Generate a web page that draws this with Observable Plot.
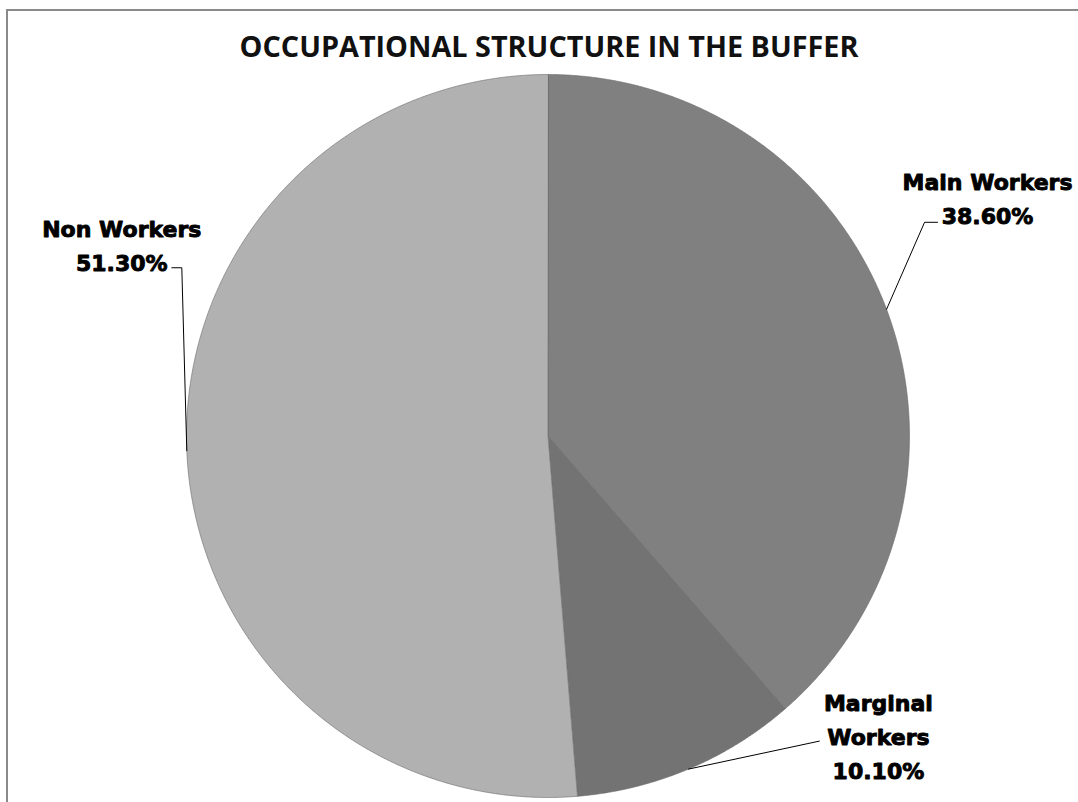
<!DOCTYPE html>
<html>
<head>
<meta charset="utf-8">
<script src="https://cdn.jsdelivr.net/npm/d3@7"></script>
<script src="https://cdn.jsdelivr.net/npm/@observablehq/plot@0.6"></script>
<style>
  html, body { margin: 0; padding: 0; background: #fff; }
  #wrap { position: relative; width: 1078px; height: 802px; overflow: hidden; }
  #frame { position: absolute; left: 6px; top: 9px; right: -10px; bottom: -10px;
           border-left: 2px solid #8a8a8a; border-top: 2px solid #8a8a8a; }
  #title { position: absolute; left: 0; width: 1098px; top: 28px; text-align: center;
           font-family: "Open Sans", sans-serif; font-weight: 700; font-size: 28.8px;
           color: #111; line-height: 36px; }
  #chart { position: absolute; left: 0; top: 0; }
</style>
</head>
<body>
<div id="wrap">
  <div id="frame"></div>
  <div id="chart"></div>
  <div id="title">OCCUPATIONAL STRUCTURE IN THE BUFFER</div>
</div>
<script>
// ---- data ----
const categories = ["Main Workers", "Marginal Workers", "Non Workers"];
const values = [38.6, 10.1, 51.3];
const valueLabels = ["38.60%", "10.10%", "51.30%"];
const labelNames = ["Main Workers", "Marginal\nWorkers", "Non Workers"];
const colors = ["#808080", "#737373", "#b1b1b1"];

// ---- layout (pixels) ----
const W = 1078, H = 802;
const margin = {left: 186, right: 169, top: 74, bottom: 5};
const R = (W - margin.left - margin.right) / 2; // pixels per data unit
// leader line elbow / end offsets and label centre offsets, relative to slice edge point (px)
const layout = [
  {elbow: [38, -87], end: [51, -87], text: [101, -113]},
  {elbow: [131, -28], end: [131, -28], text: [190, -35]},
  {elbow: [-5, -183], end: [-15, -183], text: [-65, -208]}
];

const arcs = d3.pie().sort(null).value(d => d)(values);

// slice polygons
const slicePts = [];
arcs.forEach((a, i) => {
  slicePts.push({cat: categories[i], x: 0, y: 0});
  const n = Math.max(2, Math.ceil((a.endAngle - a.startAngle) / (Math.PI / 720)));
  for (let k = 0; k <= n; k++) {
    const t = a.startAngle + (a.endAngle - a.startAngle) * k / n;
    slicePts.push({cat: categories[i], x: Math.sin(t), y: Math.cos(t)});
  }
});

// leader lines and labels
const leaderPts = [];
const labelData = [];
arcs.forEach((a, i) => {
  const m = (a.startAngle + a.endAngle) / 2;
  const px = Math.sin(m), py = Math.cos(m);
  const L = layout[i];
  leaderPts.push({cat: categories[i], x: px, y: py});
  leaderPts.push({cat: categories[i], x: px + L.elbow[0] / R, y: py - L.elbow[1] / R});
  leaderPts.push({cat: categories[i], x: px + L.end[0] / R, y: py - L.end[1] / R});
  labelData.push({
    cat: categories[i],
    x: px + L.text[0] / R,
    y: py - L.text[1] / R,
    label: labelNames[i] + "\n" + valueLabels[i]
  });
});

const chart = Plot.plot({
  width: W,
  height: H,
  marginLeft: margin.left,
  marginRight: margin.right,
  marginTop: margin.top,
  marginBottom: margin.bottom,
  x: {domain: [-1, 1], axis: null},
  y: {domain: [-1, 1], axis: null},
  color: {domain: categories, range: colors},
  style: {background: "transparent", overflow: "visible"},
  marks: [
    Plot.line(slicePts, {x: "x", y: "y", z: "cat", fill: "cat", stroke: "#6a6a6a",
                         strokeWidth: 0.6, curve: "linear-closed"}),
    Plot.line(leaderPts, {x: "x", y: "y", z: "cat", stroke: "#000", strokeWidth: 1}),
    Plot.text(labelData, {x: "x", y: "y", text: "label", textAnchor: "middle",
                          lineAnchor: "middle", lineHeight: 1.55,
                          fontFamily: "DejaVu Sans", fontWeight: "bold", fontSize: 22,
                          fill: "#000", stroke: "#000", strokeWidth: 0.9})
  ]
});
document.getElementById("chart").appendChild(chart);
</script>
</body>
</html>
